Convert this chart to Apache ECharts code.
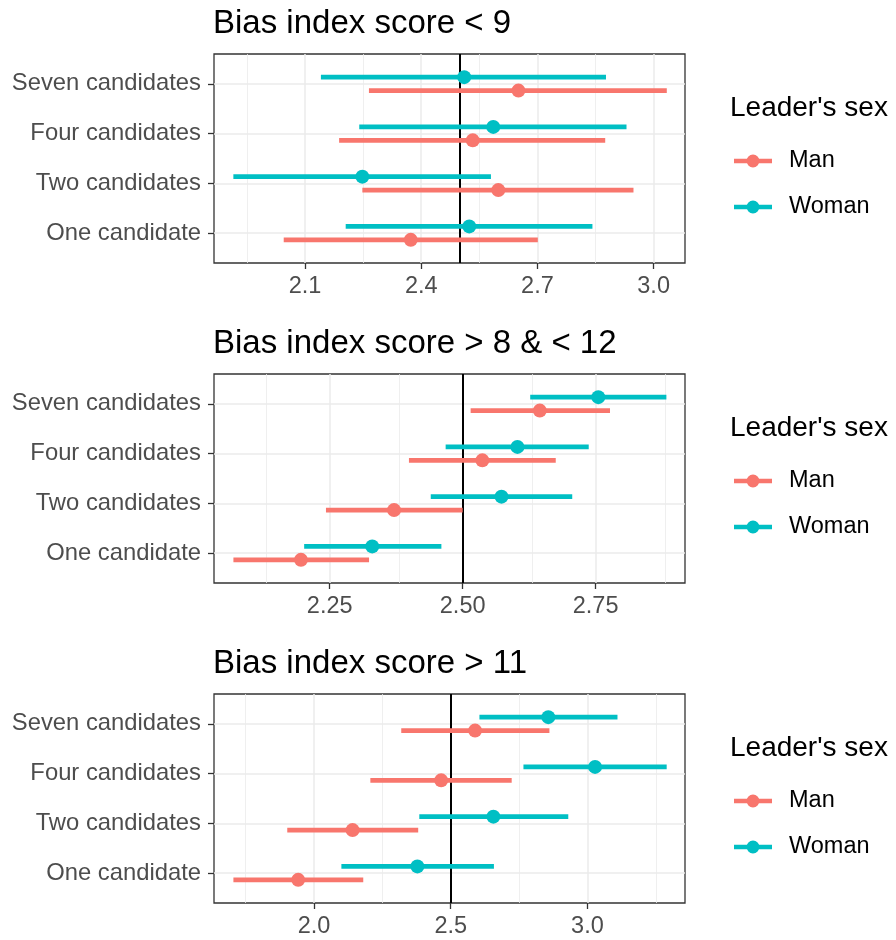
<!DOCTYPE html>
<html>
<head>
<meta charset="utf-8">
<script src="https://cdn.jsdelivr.net/npm/echarts@6.0.0/dist/echarts.min.js"></script>
<style>
html,body{margin:0;padding:0;background:#fff;}
#chart{width:896px;height:940px;}
</style>
</head>
<body>
<div id="chart"></div>
<script>
// ---------- data ----------
const categories = ["One candidate", "Two candidates", "Four candidates", "Seven candidates"];
const groups = ["Man", "Woman"];
const panelTitles = ["Bias index score < 9", "Bias index score > 8 & < 12", "Bias index score > 11"];
const legendTitle = "Leader's sex";
const refValue = 2.5;

// Panel 1: Bias index score < 9
const p1ManEst   = [2.373, 2.599, 2.533, 2.651];
const p1ManLow   = [2.045, 2.248, 2.188, 2.265];
const p1ManHigh  = [2.701, 2.948, 2.875, 3.034];
const p1WomanEst  = [2.524, 2.248, 2.586, 2.511];
const p1WomanLow  = [2.205, 1.915, 2.240, 2.141];
const p1WomanHigh = [2.842, 2.580, 2.930, 2.877];

// Panel 2: Bias index score > 8 & < 12
const p2ManEst   = [2.196, 2.371, 2.537, 2.645];
const p2ManLow   = [2.069, 2.243, 2.399, 2.515];
const p2ManHigh  = [2.324, 2.500, 2.675, 2.777];
const p2WomanEst  = [2.330, 2.573, 2.603, 2.755];
const p2WomanLow  = [2.202, 2.440, 2.468, 2.627];
const p2WomanHigh = [2.460, 2.706, 2.737, 2.883];

// Panel 3: Bias index score > 11
const p3ManEst   = [1.942, 2.141, 2.465, 2.589];
const p3ManLow   = [1.705, 1.902, 2.206, 2.319];
const p3ManHigh  = [2.180, 2.381, 2.723, 2.861];
const p3WomanEst  = [2.378, 2.656, 3.028, 2.857];
const p3WomanLow  = [2.100, 2.385, 2.766, 2.605];
const p3WomanHigh = [2.658, 2.930, 3.290, 3.110];

// x-axis ticks
const p1Ticks = [2.1, 2.4, 2.7, 3.0];
const p1TickLabels = ["2.1", "2.4", "2.7", "3.0"];
const p1Minor = [1.95, 2.25, 2.55, 2.85];
const p2Ticks = [2.25, 2.5, 2.75];
const p2TickLabels = ["2.25", "2.50", "2.75"];
const p2Minor = [2.125, 2.375, 2.625, 2.875];
const p3Ticks = [2.0, 2.5, 3.0];
const p3TickLabels = ["2.0", "2.5", "3.0"];
const p3Minor = [1.75, 2.25, 2.75, 3.25];
const p1Range = [1.865, 3.081];
const p2Range = [2.0325, 2.918];
const p3Range = [1.634, 3.357];

// ---------- build ----------
const FONT = "'Liberation Sans', Arial, Helvetica, sans-serif";
const colors = { Man: "#F8766D", Woman: "#00BFC4" };
const dodge = { Man: -0.135, Woman: 0.135 };

const panels = [
  { man: [p1ManEst, p1ManLow, p1ManHigh], woman: [p1WomanEst, p1WomanLow, p1WomanHigh],
    ticks: p1Ticks, labels: p1TickLabels, minor: p1Minor, range: p1Range },
  { man: [p2ManEst, p2ManLow, p2ManHigh], woman: [p2WomanEst, p2WomanLow, p2WomanHigh],
    ticks: p2Ticks, labels: p2TickLabels, minor: p2Minor, range: p2Range },
  { man: [p3ManEst, p3ManLow, p3ManHigh], woman: [p3WomanEst, p3WomanLow, p3WomanHigh],
    ticks: p3Ticks, labels: p3TickLabels, minor: p3Minor, range: p3Range }
];

const PANEL_STEP = 320;
const GRID_TOP = 54;
const catValues = categories.map((c, i) => i + 1);

const grid = [], xAxis = [], yAxis = [], series = [], title = [], legend = [];

panels.forEach((p, k) => {
  const top = GRID_TOP + k * PANEL_STEP;
  grid.push({ left: 214, top: top, width: 471, height: 209, show: true,
    borderColor: "#333333", borderWidth: 1.3, backgroundColor: "transparent", containLabel: false });

  xAxis.push({
    type: "value", gridIndex: k, min: p.range[0], max: p.range[1],
    axisLine: { show: false },
    axisTick: { show: true, customValues: p.ticks, length: 6, lineStyle: { color: "#333333", width: 1.3 } },
    axisLabel: { show: true, customValues: p.ticks, margin: 12, color: "#4d4d4d", fontSize: 23.5, fontFamily: FONT,
      formatter: v => { const i = p.ticks.findIndex(t => Math.abs(t - v) < 1e-9); return i >= 0 ? p.labels[i] : ""; } },
    splitLine: { show: true, lineStyle: { color: "#ebebeb", width: 1.5 } },
    minorSplitLine: { show: false }
  });

  yAxis.push({
    type: "value", gridIndex: k, min: 0.4, max: 4.6,
    axisLine: { show: false },
    axisTick: { show: true, customValues: catValues, length: 6, lineStyle: { color: "#333333", width: 1.3 } },
    axisLabel: { show: true, customValues: catValues, margin: 13, color: "#4d4d4d", fontSize: 23.8, fontFamily: FONT,
      formatter: v => categories[Math.round(v) - 1] || "" },
    splitLine: { show: true, lineStyle: { color: "#ebebeb", width: 1.5 } }
  });

  // minor vertical grid lines
  series.push({
    type: "line", name: "minor" + k, xAxisIndex: k, yAxisIndex: k, data: [], z: 1, silent: true,
    markLine: { silent: true, z: 1, symbol: "none", label: { show: false }, animation: false,
      lineStyle: { color: "#ebebeb", width: 0.8, type: "solid" },
      data: p.minor.map(v => ({ xAxis: v })) }
  });
  // reference line
  series.push({
    type: "line", name: "ref" + k, xAxisIndex: k, yAxisIndex: k, data: [], z: 2, silent: true,
    markLine: { silent: true, z: 2, symbol: "none", label: { show: false }, animation: false,
      lineStyle: { color: "#000000", width: 2, type: "solid" },
      data: [{ xAxis: refValue }] }
  });

  groups.forEach(g => {
    const arr = g === "Man" ? p.man : p.woman;
    const est = arr[0], low = arr[1], high = arr[2];
    const errData = categories.map((c, i) => [low[i], high[i], i + 1 + dodge[g]]);
    const ptData = categories.map((c, i) => [est[i], i + 1 + dodge[g]]);
    series.push({
      type: "custom", name: g, xAxisIndex: k, yAxisIndex: k, z: 3,
      itemStyle: { color: colors[g] },
      encode: { x: [0, 1], y: 2 },
      data: errData,
      renderItem: (params, api) => {
        const y = api.value(2);
        const a = api.coord([api.value(0), y]);
        const b = api.coord([api.value(1), y]);
        return { type: "line", shape: { x1: a[0], y1: a[1], x2: b[0], y2: b[1] },
          style: { stroke: colors[g], lineWidth: 4.7, lineCap: "butt" } };
      }
    });
    series.push({
      type: "scatter", name: g, xAxisIndex: k, yAxisIndex: k, z: 4,
      symbol: "circle", symbolSize: 14,
      itemStyle: { color: colors[g], opacity: 1 },
      data: ptData
    });
  });

  title.push({ text: panelTitles[k], left: 213, top: 7 + k * PANEL_STEP,
    textStyle: { fontSize: 33, fontWeight: "normal", color: "#000", fontFamily: FONT }, padding: 0 });
  title.push({ text: legendTitle, left: 730, top: 94 + k * PANEL_STEP,
    textStyle: { fontSize: 28, fontWeight: "normal", color: "#000", fontFamily: FONT }, padding: 0 });

  legend.push({
    orient: "vertical", left: 734, top: 148 + k * PANEL_STEP, padding: 0,
    itemWidth: 38, itemHeight: 13, itemGap: 20,
    icon: "path://M0,4.2H38V8.8H0Z M19,0A6.5,6.5 0 1 1 18.99,0Z",
    textStyle: { fontSize: 23.5, color: "#000", fontFamily: FONT, lineHeight: 26, padding: [0, 0, 0, 12] },
    data: groups.map(g => ({ name: g, itemStyle: { color: colors[g] } })),
    selectedMode: false
  });
});

const chart = echarts.init(document.getElementById("chart"), null, { renderer: "canvas" });
chart.setOption({
  animation: false,
  backgroundColor: "#ffffff",
  title, legend, grid, xAxis, yAxis, series
});
</script>
</body>
</html>
